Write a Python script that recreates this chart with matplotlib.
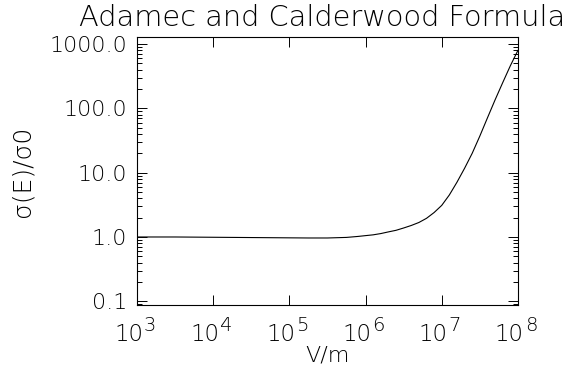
import numpy as np
import matplotlib
matplotlib.use('Agg')
from matplotlib import pyplot as plt
from matplotlib import ticker

# field strength (log10 of V/m) and conductivity ratio
log_field = [3.0, 3.5, 4.0, 4.5, 5.0, 5.25, 5.5, 5.75, 5.9, 6.0, 6.1, 6.2,
             6.3, 6.4, 6.5, 6.6, 6.7, 6.8, 6.9, 7.0, 7.1, 7.2, 7.3, 7.4,
             7.5, 7.6, 7.7, 7.8, 7.9, 8.0]
ratio = [1.0, 1.0, 0.99, 0.98, 0.97, 0.965, 0.965, 0.985, 1.02, 1.05, 1.08,
         1.13, 1.2, 1.27, 1.38, 1.51, 1.68, 1.95, 2.4, 3.1, 4.5, 7.1, 11.7,
         20, 37, 71, 135, 250, 457, 795]

y_ticks = [0.1, 1.0, 10.0, 100.0, 1000.0]
y_tick_labels = ['0.1', '1.0', '10.0', '100.0', '1000.0']
x_ticks = [1e3, 1e4, 1e5, 1e6, 1e7, 1e8]
x_exponents = ['3', '4', '5', '6', '7', '8']

field = [10 ** v for v in log_field]

plt.rcParams['font.family'] = ['DejaVu Sans']
plt.rcParams['font.weight'] = 'light'

fig = plt.figure(figsize=(5.71, 3.72), dpi=100)
ax = fig.add_axes([0.24, 0.18, 0.667, 0.7205])

ax.plot(field, ratio, color='black', lw=0.8)

ax.set_xscale('log')
ax.set_yscale('log')
ax.set_xlim(1e3, 1e8)
ax.set_ylim(0.0875, 1285)

ax.set_xticks(x_ticks)
ax.set_xticklabels([''] * len(x_ticks))
ax.set_yticks(y_ticks)
ax.set_yticklabels(y_tick_labels, fontweight='light')
ax.xaxis.set_minor_locator(ticker.LogLocator(base=10, subs=np.arange(2, 10)))
ax.yaxis.set_minor_locator(ticker.LogLocator(base=10, subs=np.arange(2, 10)))
ax.yaxis.set_minor_formatter(ticker.NullFormatter())
ax.xaxis.set_minor_formatter(ticker.NullFormatter())

ax.tick_params(which='both', direction='in', top=True, right=True, width=0.7)
ax.tick_params(which='major', length=7, labelsize=16, pad=7)
ax.tick_params(which='minor', length=3.5)
for sp in ax.spines.values():
    sp.set_linewidth(0.8)

# IDL style "10" with a big exponent under each major x tick
for v, e in zip(x_ticks, x_exponents):
    ax.annotate('10', xy=(v, 0), xycoords=('data', 'axes fraction'),
                xytext=(6, -18), textcoords='offset pixels', ha='right',
                va='top', fontsize=16.5, fontweight='light')
    ax.annotate(e, xy=(v, 0), xycoords=('data', 'axes fraction'),
                xytext=(7, -11), textcoords='offset pixels', ha='left',
                va='top', fontsize=14, fontweight='light')

ax.set_xlabel('V/m', fontsize=16, labelpad=22, fontweight='light')
ax.set_ylabel('σ(E)/σ0', fontsize=18, labelpad=11, fontweight='light')
fig.text(79 / 571, 0.952, 'Adamec and Calderwood Formula', ha='left',
         va='center', fontsize=20.8, fontweight='light')

plt.savefig('out.png', dpi=100)
